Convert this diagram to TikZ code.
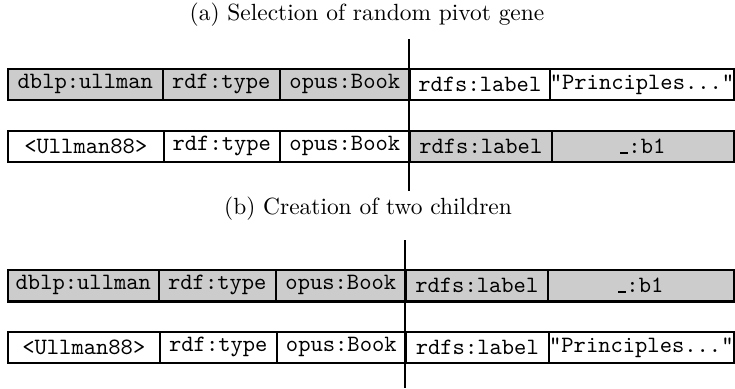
\documentclass[tikz,border=0pt]{standalone}
\usepackage{tikz}

\definecolor{cellgray}{gray}{0.8}
\newcommand{\bnode}{\rule{0.35em}{0.8pt}}

\tikzset{
  cell/.style={draw, line width=0.7pt, anchor=north west, inner sep=0pt,
    minimum height=31*0.427pt, font=\ttfamily},
  cut/.style={line width=0.7pt},
  caption/.style={font=\normalsize}
}

\begin{document}
\begin{tikzpicture}[x=0.427pt, y=-0.427pt]
    \useasboundingbox (0,0) rectangle (735,388);

    % (a) pivot selection
    \node[caption] (capa) at (367,15) {(a) Selection of random pivot gene};

    \node[cell, fill=cellgray, minimum width=155*0.427pt] (a1s) at (7,68) {dblp:ullman};
    \node[cell, fill=cellgray, minimum width=117*0.427pt] (a1p) at (162,68) {rdf:type};
    \node[cell, fill=cellgray, minimum width=130*0.427pt] (a1o) at (279,68) {opus:Book};
    \node[cell, minimum width=140*0.427pt] (a1l) at (409,68) {rdfs:label};
    \node[cell, minimum width=184*0.427pt] (a1v) at (549,68) {"Principles..."};

    \node[cell, minimum width=156*0.427pt] (a2s) at (7,130) {<Ullman88>};
    \node[cell, minimum width=116*0.427pt] (a2p) at (163,130) {rdf:type};
    \node[cell, minimum width=130*0.427pt] (a2o) at (279,130) {opus:Book};
    \node[cell, fill=cellgray, minimum width=142*0.427pt] (a2l) at (409,130) {rdfs:label};
    \node[cell, fill=cellgray, minimum width=182*0.427pt] (a2v) at (551,130) {\bnode:b1};

    % cut point
    \coordinate (cuta1) at (409,39);
    \coordinate (cuta2) at (409,191);
    \draw[cut] (cuta1) -- (cuta2);

    % (b) children
    \node[caption] (capb) at (368,209) {(b) Creation of two children};

    \node[cell, fill=cellgray, minimum width=151*0.427pt] (b1s) at (7,269) {dblp:ullman};
    \node[cell, fill=cellgray, minimum width=117*0.427pt] (b1p) at (158,269) {rdf:type};
    \node[cell, fill=cellgray, minimum width=130*0.427pt] (b1o) at (275,269) {opus:Book};
    \node[cell, fill=cellgray, minimum width=142*0.427pt] (b1l) at (405,269) {rdfs:label};
    \node[cell, fill=cellgray, minimum width=186*0.427pt] (b1v) at (547,269) {\bnode:b1};
    \draw[line width=1.3pt] (b1s.south west) -- (b1v.south east);

    \node[cell, minimum width=152*0.427pt] (b2s) at (7,331) {<Ullman88>};
    \node[cell, minimum width=117*0.427pt] (b2p) at (159,331) {rdf:type};
    \node[cell, minimum width=129*0.427pt] (b2o) at (276,331) {opus:Book};
    \node[cell, minimum width=143*0.427pt] (b2l) at (405,331) {rdfs:label};
    \node[cell, minimum width=185*0.427pt] (b2v) at (548,331) {"Principles..."};

    \coordinate (cutb1) at (405,240);
    \coordinate (cutb2) at (405,388);
    \draw[cut, line width=1.2pt] (cutb1) -- (cutb2);
\end{tikzpicture}
\end{document}
